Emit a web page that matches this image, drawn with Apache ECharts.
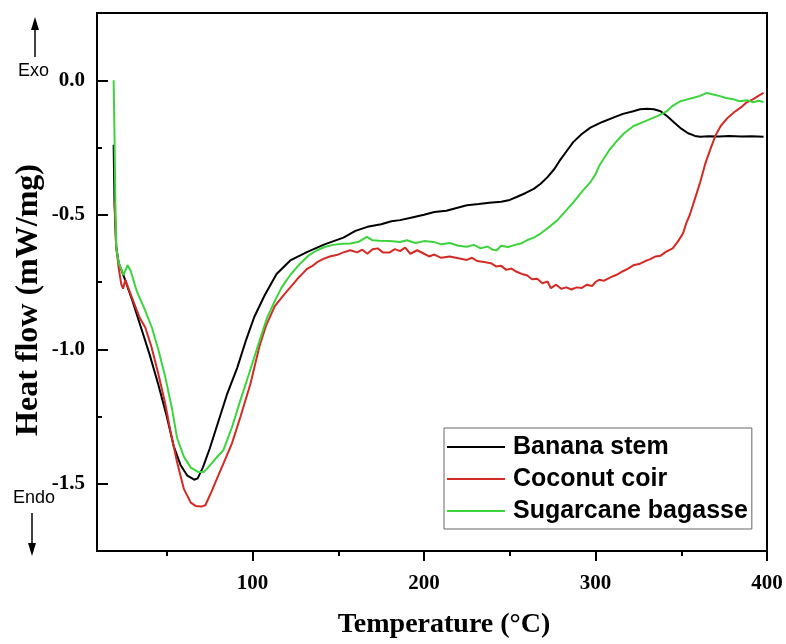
<!DOCTYPE html>
<html><head><meta charset="utf-8">
<script src="https://cdn.jsdelivr.net/npm/echarts@6/dist/echarts.min.js"></script>
<style>html,body{margin:0;padding:0;background:#fff}#chart{width:786px;height:644px}</style>
</head><body><div id="chart"></div>
<script>
const seriesNames = ['Banana stem', 'Coconut coir', 'Sugarcane bagasse'];
const seriesColors = ['#000000', '#d42a24', '#3cd43c'];
const xMajorTicks = [100, 200, 300, 400];
const xMinorTicks = [50, 150, 250, 350];
const yMajorTicks = [-1.5, -1.0, -0.5, 0.0];
const yMinorTicks = [-1.25, -0.75, -0.25];
const xRange = [9.3, 400];
const yRange = [-1.75, 0.25];

const bananaStem = [
  [19,-0.24],[19.5,-0.45],[20.5,-0.62],[22,-0.68],[25,-0.73],[30,-0.82],[35,-0.92],[40,-1.02],
  [45,-1.13],[50,-1.25],[54,-1.36],[58,-1.43],[62,-1.47],[66,-1.485],[68,-1.48],[71,-1.44],
  [75,-1.37],[79,-1.29],[85,-1.17],[91,-1.07],[96,-0.97],[101,-0.88],[107,-0.80],[114,-0.72],
  [122,-0.67],[132,-0.638],[142,-0.61],[153,-0.585],[160,-0.56],[167,-0.545],[175,-0.535],
  [181,-0.524],[186,-0.52],[193,-0.51],[200,-0.50],[206,-0.49],[213,-0.485],[219,-0.475],
  [225,-0.465],[232,-0.46],[238,-0.455],[245,-0.452],[250,-0.445],[254,-0.434],[259,-0.42],
  [264,-0.404],[268,-0.385],[272,-0.36],[276,-0.33],[279,-0.30],[283,-0.265],[287,-0.23],
  [292,-0.20],[297,-0.176],[304,-0.155],[310,-0.14],[316,-0.125],[322,-0.115],[326,-0.108],
  [330,-0.106],[334,-0.108],[338,-0.115],[342,-0.135],[346,-0.158],[350,-0.18],[354,-0.197],
  [358,-0.207],[361,-0.21],[366,-0.208],[372,-0.209],[378,-0.207],[385,-0.209],[391,-0.208],[398,-0.21]
];
const coconutCoir = [
  [19.5,-0.45],[20.5,-0.62],[22,-0.70],[23.5,-0.76],[24.5,-0.775],[25.8,-0.742],[28,-0.78],
  [31,-0.83],[34,-0.88],[37.5,-0.92],[41,-0.99],[45,-1.09],[49,-1.20],[52,-1.30],[56,-1.42],
  [60,-1.52],[64,-1.57],[67,-1.583],[70,-1.585],[72.5,-1.58],[76,-1.53],[80,-1.47],[84,-1.41],
  [88,-1.35],[93,-1.25],[98.7,-1.13],[104,-0.99],[108,-0.91],[113,-0.84],[118,-0.80],[122,-0.77],
  [126,-0.74],[129,-0.72],[132,-0.70],[135,-0.69],[138,-0.675],[141,-0.665],[145,-0.655],
  [149,-0.65],[153,-0.64],[157,-0.632],[161,-0.64],[164,-0.63],[167,-0.645],[170,-0.628],
  [173,-0.625],[176,-0.64],[180,-0.64],[183,-0.628],[186,-0.635],[189,-0.622],[192,-0.645],
  [196,-0.632],[200,-0.645],[203,-0.655],[206,-0.648],[210,-0.66],[215,-0.655],[220,-0.662],
  [225,-0.668],[228,-0.66],[231,-0.672],[235,-0.676],[239,-0.68],[242,-0.692],[245,-0.69],
  [248,-0.705],[251,-0.70],[254,-0.712],[257,-0.72],[260,-0.725],[263,-0.74],[266,-0.738],
  [269,-0.755],[272,-0.748],[274,-0.773],[277,-0.76],[280,-0.775],[283,-0.77],[286,-0.778],
  [289,-0.77],[292,-0.772],[295,-0.76],[298,-0.765],[300,-0.75],[302,-0.742],[305,-0.745],
  [309,-0.732],[312,-0.724],[316,-0.71],[319,-0.70],[322,-0.688],[326,-0.682],[329,-0.672],
  [332,-0.665],[335,-0.655],[338,-0.652],[341,-0.638],[345,-0.625],[348,-0.60],[351,-0.57],
  [353,-0.53],[355,-0.50],[358,-0.44],[361,-0.38],[364,-0.31],[367,-0.256],[370,-0.205],
  [373,-0.17],[377,-0.14],[381,-0.118],[385,-0.10],[388,-0.083],[392,-0.07],[395,-0.058],[398,-0.047]
];
const sugarcaneBagasse = [
  [19,0.0],[19.5,-0.2],[20,-0.45],[20.6,-0.626],[22,-0.68],[24.8,-0.724],[27.1,-0.687],[29,-0.71],
  [32.6,-0.786],[37,-0.85],[41.4,-0.921],[45,-1.0],[49,-1.10],[53,-1.22],[56,-1.33],[60,-1.40],
  [64,-1.44],[68,-1.455],[71.5,-1.457],[74,-1.44],[78,-1.41],[83,-1.375],[88,-1.29],[92.9,-1.19],
  [98,-1.09],[103,-0.99],[108.4,-0.884],[113,-0.82],[117,-0.77],[122,-0.724],[128,-0.68],
  [133,-0.65],[137.6,-0.632],[142,-0.62],[147,-0.612],[152,-0.608],[157,-0.607],[162,-0.6],
  [166.7,-0.582],[170,-0.595],[174,-0.597],[180,-0.598],[186,-0.601],[190,-0.595],[195,-0.605],
  [200,-0.598],[205.6,-0.601],[210,-0.61],[215,-0.605],[220,-0.615],[225,-0.619],[229,-0.612],
  [233,-0.625],[237,-0.618],[240,-0.63],[242.5,-0.632],[245,-0.615],[249,-0.62],[253,-0.612],
  [256.3,-0.607],[260,-0.595],[264,-0.585],[268,-0.57],[272,-0.55],[277.7,-0.521],[282,-0.49],
  [287.2,-0.453],[292,-0.415],[297,-0.379],[300,-0.35],[302,-0.32],[304.7,-0.293],[308,-0.26],
  [312.5,-0.225],[317,-0.195],[322.2,-0.17],[328,-0.155],[333.9,-0.139],[338,-0.128],[341.6,-0.115],
  [345,-0.095],[349.4,-0.078],[353,-0.072],[357.2,-0.065],[361,-0.058],[364.9,-0.047],[368,-0.052],
  [372.7,-0.059],[376,-0.066],[380.5,-0.071],[384,-0.078],[388.3,-0.074],[392,-0.082],[395,-0.076],[398,-0.081]
];
const seriesData = [bananaStem, coconutCoir, sugarcaneBagasse];

const SERIF = "'Liberation Serif','Times New Roman',serif";
const SANS = "'Liberation Sans',Arial,sans-serif";

const chart = echarts.init(document.getElementById('chart'), null, {renderer: 'canvas'});
const baseX = {type: 'value', min: xRange[0], max: xRange[1], position: 'bottom', gridIndex: 0, splitLine: {show: false}};
const baseY = {type: 'value', min: yRange[0], max: yRange[1], position: 'left', gridIndex: 0, splitLine: {show: false}};
const tickLine = {color: '#000', width: 2};

chart.setOption({
  animation: false,
  backgroundColor: '#fff',
  grid: {left: 97, top: 13, width: 670, height: 541, show: true, borderColor: '#000', borderWidth: 2, backgroundColor: 'transparent'},
  xAxis: [
    Object.assign({}, baseX, {
      name: 'Temperature (°C)', nameLocation: 'middle', nameGap: 60, nameMoveOverlap: false,
      nameTextStyle: {fontFamily: SERIF, fontWeight: 'bold', fontSize: 28, color: '#000', padding: [0, 0, 0, 24]},
      axisLine: {show: true, onZero: false, lineStyle: {color: '#000', width: 2}},
      axisTick: {show: true, inside: false, length: 10, lineStyle: tickLine, customValues: xMajorTicks},
      axisLabel: {show: true, margin: 22, customValues: xMajorTicks, fontFamily: SERIF, fontWeight: 'bold', fontSize: 21, color: '#000'}
    }),
    Object.assign({}, baseX, {
      axisLine: {show: false, onZero: false},
      axisTick: {show: true, inside: false, length: 5, lineStyle: tickLine, customValues: xMinorTicks},
      axisLabel: {show: false}
    })
  ],
  yAxis: [
    Object.assign({}, baseY, {
      name: 'Heat flow (mW/mg)', nameLocation: 'middle', nameGap: 52, nameRotate: 90, nameMoveOverlap: false,
      nameTextStyle: {fontFamily: SERIF, fontWeight: 'bold', fontSize: 32, color: '#000', padding: [0, 36, 0, 0]},
      axisLine: {show: true, onZero: false, lineStyle: {color: '#000', width: 2}},
      axisTick: {show: false},
      axisLabel: {show: true, margin: 12, customValues: yMajorTicks, formatter: v => v.toFixed(1), fontFamily: SERIF, fontWeight: 'bold', fontSize: 21, color: '#000'}
    }),
    Object.assign({}, baseY, {
      axisLine: {show: false, onZero: false},
      axisTick: {show: true, inside: true, length: 11, lineStyle: tickLine, customValues: yMajorTicks},
      axisLabel: {show: false}
    }),
    Object.assign({}, baseY, {
      axisLine: {show: false, onZero: false},
      axisTick: {show: true, inside: true, length: 5, lineStyle: tickLine, customValues: yMinorTicks},
      axisLabel: {show: false}
    })
  ],
  legend: {
    orient: 'vertical', left: 444, top: 428,
    padding: [6, 4, 5, 3], itemGap: 6, itemWidth: 58, itemHeight: 2, icon: 'rect',
    borderColor: '#666', borderWidth: 1, backgroundColor: '#fff',
    textStyle: {fontFamily: SANS, fontWeight: 'bold', fontSize: 25, lineHeight: 26, color: '#000', padding: [0, 0, 0, 3]},
    data: seriesNames
  },
  series: seriesData.map((d, i) => ({
    name: seriesNames[i], type: 'line', xAxisIndex: 0, yAxisIndex: 0,
    data: d, symbol: 'none', showSymbol: false, smooth: false,
    lineStyle: {color: seriesColors[i], width: 2}, itemStyle: {color: seriesColors[i]}, z: 3 + i
  })),
  graphic: [
    {type: 'text', left: 18, top: 62, style: {text: 'Exo', font: "18px " + SANS, fill: '#000'}},
    {type: 'line', shape: {x1: 35, y1: 26, x2: 35, y2: 57}, style: {stroke: '#000', lineWidth: 1.5}},
    {type: 'polygon', shape: {points: [[35, 17], [31, 30], [39, 30]]}, style: {fill: '#000'}},
    {type: 'text', left: 13, top: 489, style: {text: 'Endo', font: "18px " + SANS, fill: '#000'}},
    {type: 'line', shape: {x1: 32, y1: 513, x2: 32, y2: 546}, style: {stroke: '#000', lineWidth: 1.5}},
    {type: 'polygon', shape: {points: [[32, 556], [28, 543], [36, 543]]}, style: {fill: '#000'}}
  ]
});
</script>
</body></html>
